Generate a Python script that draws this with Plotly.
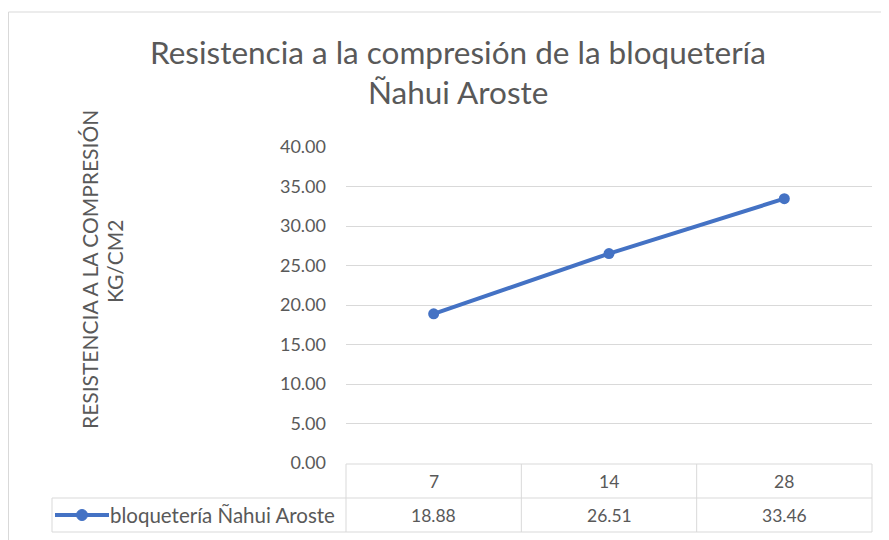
import plotly.graph_objects as go

# ---- data ----
dias = ["7", "14", "28"]
resistencia = [18.88, 26.51, 33.46]
serie_nombre = "bloquetería Ñahui Aroste"
titulo_l1 = "Resistencia a la compresión de la bloquetería"
titulo_l2 = "Ñahui Aroste"
eje_y_l1 = "RESISTENCIA A LA COMPRESIÓN"
eje_y_l2 = "KG/CM2"

OFF = 8  # page body margin
W, H = 889 - OFF, 540 - OFF
# plot area in screen px
SL, SR, ST, SB = 346, 872, 147, 463
PL, PR, PT, PB = SL - OFF, SR - OFF, ST - OFF, SB - OFF
pw, ph = PR - PL, PB - PT

def px(x):
    """screen x -> paper"""
    return (x - OFF - PL) / pw

def py(y):
    """screen y -> paper"""
    return (PB - (y - OFF)) / ph

FONT = "Lato, Liberation Sans, sans-serif"
GRAY = "#595959"
LINE_C = "#4472C4"
GRID = "#D9D9D9"
TBL = 17.5

fig = go.Figure()
fig.add_trace(go.Scatter(
    x=dias, y=resistencia, mode="lines+markers", name=serie_nombre,
    line=dict(color=LINE_C, width=4),
    marker=dict(color=LINE_C, size=11),
    showlegend=False, cliponaxis=False,
))

shapes = []
annotations = []

# outer chart border
shapes.append(dict(type="rect", xref="paper", yref="paper",
                   x0=px(8.5), x1=px(900), y0=py(12), y1=py(560),
                   line=dict(color="#D9D9D9", width=1), layer="below"))

# data table
n = len(dias)
y_top, y_mid, y_bot = py(464), py(498), py(532)
x_key_left = px(52)
shapes.append(dict(type="line", xref="paper", yref="paper", x0=0, x1=1, y0=y_top, y1=y_top,
                   line=dict(color=GRID, width=1)))
for yy in (y_mid, y_bot):
    shapes.append(dict(type="line", xref="paper", yref="paper", x0=x_key_left, x1=1, y0=yy, y1=yy,
                       line=dict(color=GRID, width=1)))
shapes.append(dict(type="line", xref="paper", yref="paper", x0=x_key_left, x1=x_key_left,
                   y0=y_mid, y1=y_bot, line=dict(color=GRID, width=1)))
for i in range(n + 1):
    xx = i / n
    shapes.append(dict(type="line", xref="paper", yref="paper", x0=xx, x1=xx, y0=y_top, y1=y_bot,
                       line=dict(color=GRID, width=1)))

row1_y = (y_top + y_mid) / 2
row2_y = (y_mid + y_bot) / 2
for i, (d, v) in enumerate(zip(dias, resistencia)):
    cx = (i + 0.5) / n
    annotations.append(dict(x=cx, y=row1_y, xref="paper", yref="paper", text=d, showarrow=False,
                            font=dict(family=FONT, size=TBL, color=GRAY), xanchor="center", yanchor="middle"))
    annotations.append(dict(x=cx, y=row2_y, xref="paper", yref="paper", text=f"{v:.2f}", showarrow=False,
                            font=dict(family=FONT, size=TBL, color=GRAY), xanchor="center", yanchor="middle"))

# legend key in table
shapes.append(dict(type="line", xref="paper", yref="paper", x0=px(55), x1=px(109), y0=row2_y, y1=row2_y,
                   line=dict(color=LINE_C, width=4)))
shapes.append(dict(type="circle", xref="paper", yref="paper", xsizemode="pixel", ysizemode="pixel",
                   xanchor=px(82), yanchor=row2_y, x0=-5.5, x1=5.5, y0=-5.5, y1=5.5,
                   fillcolor=LINE_C, line=dict(color=LINE_C, width=1)))
annotations.append(dict(x=px(108), y=row2_y, xref="paper", yref="paper", text=serie_nombre, showarrow=False,
                        font=dict(family=FONT, size=20.5, color=GRAY), xanchor="left", yanchor="middle"))

# title
annotations.append(dict(x=px(458), y=py(52), xref="paper", yref="paper", text=titulo_l1, showarrow=False,
                        font=dict(family=FONT, size=31.5, color=GRAY), xanchor="center", yanchor="middle"))
annotations.append(dict(x=px(458), y=py(92), xref="paper", yref="paper", text=titulo_l2, showarrow=False,
                        font=dict(family=FONT, size=31.5, color=GRAY), xanchor="center", yanchor="middle"))

# y axis title
annotations.append(dict(x=px(89), y=py(270), xref="paper", yref="paper", text=eje_y_l1, showarrow=False,
                        textangle=-90, font=dict(family=FONT, size=21, color=GRAY),
                        xanchor="center", yanchor="middle"))
annotations.append(dict(x=px(114), y=py(262), xref="paper", yref="paper", text=eje_y_l2, showarrow=False,
                        textangle=-90, font=dict(family=FONT, size=21, color=GRAY),
                        xanchor="center", yanchor="middle"))

fig.update_layout(
    width=W, height=H,
    margin=dict(l=PL, r=W - PR, t=PT, b=H - PB),
    paper_bgcolor="white", plot_bgcolor="white",
    font=dict(family=FONT, color=GRAY),
    shapes=shapes, annotations=annotations,
    xaxis=dict(type="category", showticklabels=False, showgrid=False, zeroline=False,
               showline=False, ticks="", range=[-0.5, n - 0.5]),
    yaxis=dict(range=[0, 40], dtick=5, tickformat=".2f", showgrid=True, gridcolor=GRID,
               gridwidth=1, zeroline=False, showline=False, ticks="", ticklabelstandoff=19,
               tickfont=dict(family=FONT, size=18, color=GRAY)),
)

fig.write_html("out.html")
